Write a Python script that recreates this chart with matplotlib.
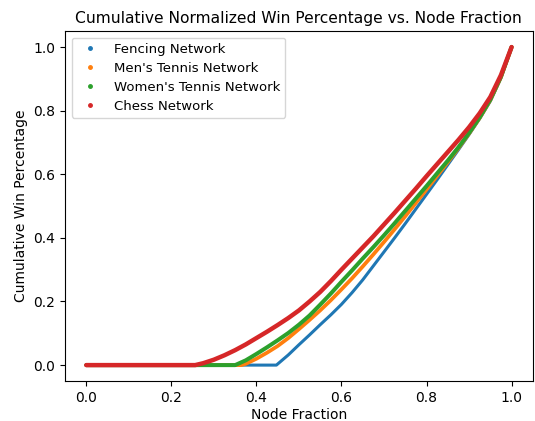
import numpy as np
import matplotlib
matplotlib.use("Agg")
import matplotlib.pyplot as plt
from matplotlib.lines import Line2D

# values
fencing_x = [0.0, 0.2, 0.447, 0.475, 0.5, 0.525, 0.55, 0.575, 0.6, 0.625, 0.65, 0.675, 0.7,
             0.725, 0.75, 0.775, 0.8, 0.825, 0.85, 0.875, 0.9, 0.925, 0.95, 0.975, 1.0]
fencing_y = [0.0, 0.0, 0.0, 0.032, 0.064, 0.095, 0.127, 0.158, 0.191, 0.228, 0.268, 0.312, 0.356,
             0.4, 0.445, 0.491, 0.537, 0.583, 0.63, 0.677, 0.725, 0.775, 0.83, 0.903, 1.0]

mens_x = [0.0, 0.2, 0.365, 0.375, 0.4, 0.425, 0.45, 0.475, 0.5, 0.525, 0.55, 0.575, 0.6, 0.625,
          0.65, 0.675, 0.7, 0.725, 0.75, 0.775, 0.8, 0.825, 0.85, 0.875, 0.9, 0.925, 0.95, 0.975, 1.0]
mens_y = [0.0, 0.0, 0.0, 0.004, 0.02, 0.039, 0.06, 0.085, 0.113, 0.142, 0.172, 0.204, 0.238, 0.273,
          0.31, 0.348, 0.387, 0.427, 0.468, 0.51, 0.552, 0.595, 0.638, 0.682, 0.728, 0.777, 0.833, 0.905, 1.0]

womens_x = [0.0, 0.2, 0.35, 0.375, 0.4, 0.425, 0.45, 0.475, 0.5, 0.525, 0.55, 0.575, 0.6, 0.625,
            0.65, 0.675, 0.7, 0.725, 0.75, 0.775, 0.8, 0.825, 0.85, 0.875, 0.9, 0.925, 0.95, 0.975, 1.0]
womens_y = [0.0, 0.0, 0.0, 0.015, 0.035, 0.056, 0.078, 0.101, 0.127, 0.156, 0.19, 0.225, 0.262, 0.298,
            0.335, 0.371, 0.408, 0.446, 0.485, 0.524, 0.563, 0.603, 0.643, 0.685, 0.73, 0.779, 0.835, 0.907, 1.0]

chess_x = [0.0, 0.1, 0.256, 0.275, 0.3, 0.325, 0.35, 0.375, 0.4, 0.425, 0.45, 0.475, 0.5, 0.525,
           0.55, 0.575, 0.6, 0.625, 0.65, 0.675, 0.7, 0.725, 0.75, 0.775, 0.8, 0.825, 0.85, 0.875,
           0.9, 0.925, 0.95, 0.975, 1.0]
chess_y = [0.0, 0.0, 0.0, 0.006, 0.017, 0.031, 0.047, 0.065, 0.085, 0.105, 0.126, 0.148, 0.172, 0.2,
           0.23, 0.264, 0.3, 0.335, 0.37, 0.405, 0.442, 0.479, 0.517, 0.555, 0.594, 0.632, 0.67, 0.708,
           0.748, 0.792, 0.843, 0.912, 1.0]

names = ["Fencing Network", "Men's Tennis Network", "Women's Tennis Network", "Chess Network"]
colors = ["#1f77b4", "#ff7f0e", "#2ca02c", "#d62728"]
widths = [2.2, 2.7, 2.9, 3.2]

fig = plt.figure(figsize=(5.35, 4.21), dpi=100)
ax = fig.add_axes([0.1215, 0.095, 0.8745, 0.831])

series = [(fencing_x, fencing_y), (mens_x, mens_y), (womens_x, womens_y), (chess_x, chess_y)]
for (xs, ys), c, w in zip(series, colors, widths):
    ax.plot(xs, ys, color=c, lw=w, solid_capstyle="round", solid_joinstyle="round")

ax.set_xlim(-0.05, 1.05)
ax.set_ylim(-0.05, 1.05)
ax.set_xticks(np.arange(0, 1.01, 0.2))
ax.set_yticks(np.arange(0, 1.01, 0.2))
ax.tick_params(labelsize=10)

handles = [Line2D([], [], ls="", marker="o", ms=2.5, color=c) for c in colors]
ax.legend(handles, names, loc="upper left", fontsize=9.5, handletextpad=0.8,
          labelspacing=0.45)

ax.set_title("Cumulative Normalized Win Percentage vs. Node Fraction", fontsize=11.2)
ax.set_xlabel("Node Fraction", fontsize=10, labelpad=2)
ax.set_ylabel("Cumulative Win Percentage", fontsize=10)

fig.savefig("out.png", dpi=100)
